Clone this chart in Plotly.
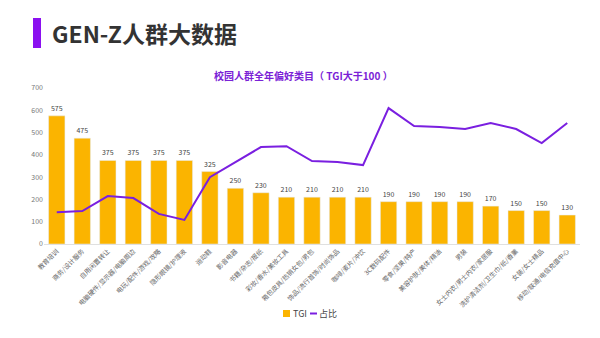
import plotly.graph_objects as go

categories = [
    "教育培训", "商务/设计服务", "自用闲置转让", "电脑硬件/显示器/电脑周边",
    "电玩/配件/游戏/攻略", "隐形眼镜/护理液", "运动鞋", "影音电器",
    "书籍/杂志/报纸", "彩妆/香水/美妆工具", "箱包皮具/热销女包/男包",
    "饰品/流行首饰/时尚饰品", "咖啡/麦片/冲饮", "3C数码配件", "零食/坚果/特产",
    "美容护肤/美体/精油", "男装", "女士内衣/男士内衣/家居服",
    "洗护清洁剂/卫生巾/纸/香薰", "女装/女士精品", "移动/联通/电信充值中心",
]
tgi = [575, 475, 375, 375, 375, 375, 325, 250, 230, 210, 210, 210, 210,
       190, 190, 190, 190, 170, 150, 150, 130]
share = [1.43, 1.48, 2.15, 2.06, 1.35, 1.08, 3.00, 3.68, 4.35, 4.39, 3.72,
         3.68, 3.54, 6.10, 5.29, 5.25, 5.16, 5.43, 5.16, 4.53, 5.43]

BAR = "#FBB400"
PURPLE = "#7A1FE0"

# plot area in pixels: x 44..580, y 88..244
def px(x):
    return (x - 44) / 536

def py(y):
    return (244 - y) / 156

fig = go.Figure()
fig.add_trace(go.Bar(
    x=categories, y=tgi, name="TGI", marker_color=BAR,
    text=[str(v) for v in tgi], textposition="outside",
    textfont=dict(size=7, color="#444444"), cliponaxis=False,
))
fig.add_trace(go.Scatter(
    x=categories, y=share, name="占比", mode="lines", yaxis="y2",
    line=dict(color=PURPLE, width=2),
))

fig.update_layout(
    width=600, height=338,
    margin=dict(l=44, r=20, t=88, b=94),
    paper_bgcolor="white", plot_bgcolor="white",
    font=dict(family="Noto Sans CJK SC, sans-serif", color="#555555"),
    bargap=0.36,
    showlegend=False,
    xaxis=dict(type="category", tickangle=-45, tickfont=dict(size=6.5, color="#666666"),
               showgrid=False, showline=True, linecolor="#E0E0E0", ticks=""),
    yaxis=dict(range=[0, 700], dtick=100, showgrid=False, zeroline=False,
               tickfont=dict(size=7, color="#777777"), ticks=""),
    yaxis2=dict(range=[0, 7], overlaying="y", side="right", visible=False),
    shapes=[
        dict(type="rect", xref="paper", yref="paper",
             x0=px(33), x1=px(41), y0=py(48), y1=py(18),
             fillcolor="#8B10F0", line=dict(width=0)),
        # legend swatches
        dict(type="rect", xref="paper", yref="paper",
             x0=px(283), x1=px(290), y0=py(317), y1=py(310),
             fillcolor=BAR, line=dict(width=0)),
        dict(type="line", xref="paper", yref="paper",
             x0=px(310), x1=px(317), y0=py(313.5), y1=py(313.5),
             line=dict(color=PURPLE, width=2)),
    ],
    annotations=[
        dict(text="<b>GEN-Z人群大数据</b>", xref="paper", yref="paper",
             x=px(50), y=py(33), xanchor="left", yanchor="middle", showarrow=False,
             font=dict(size=23, color="#333333", family="Noto Sans CJK SC, sans-serif")),
        dict(text="<b>校园人群全年偏好类目（ TGI大于100 ）</b>", xref="paper", yref="paper",
             x=px(303), y=py(75), xanchor="center", yanchor="middle",
             showarrow=False, font=dict(size=10, color="#7A22D6")),
        dict(text="TGI", xref="paper", yref="paper", x=px(290.5), y=py(313.5),
             xanchor="left", yanchor="middle", showarrow=False,
             font=dict(size=9, color="#444444")),
        dict(text="占比", xref="paper", yref="paper", x=px(316.5), y=py(313.5),
             xanchor="left", yanchor="middle", showarrow=False,
             font=dict(size=9, color="#444444")),
    ],
)

fig.write_html("out.html")
